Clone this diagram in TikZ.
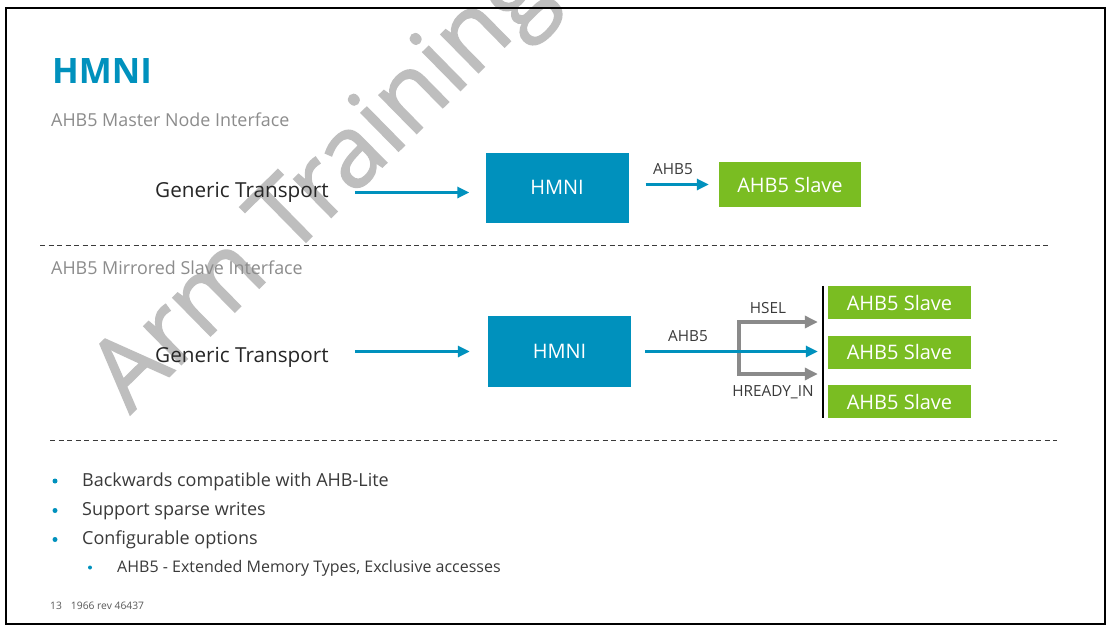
\documentclass[tikz,border=0pt]{standalone}
\usepackage{fontspec}
\setmainfont{Open Sans}
\usetikzlibrary{arrows.meta}
\definecolor{armblue}{HTML}{0091BD}
\definecolor{armgreen}{HTML}{7ABD22}
\definecolor{subgray}{HTML}{8C8C8C}
\definecolor{wmgray}{HTML}{BEBEBE}
\definecolor{arrgray}{HTML}{8A8A8A}
\definecolor{txtdark}{HTML}{262626}
\definecolor{txtmid}{HTML}{3A3A3A}
\begin{document}
\begin{tikzpicture}[x=1pt,y=-1pt,
  hmni/.style={fill=armblue, text=white, inner sep=0, minimum width=143pt, minimum height=70pt, font=\fontsize{20}{24}\selectfont},
  slave/.style={fill=armgreen, text=white, inner sep=0, minimum width=143pt, minimum height=33pt, font=\fontsize{20}{24}\selectfont},
  gtext/.style={text=txtdark, inner sep=0, font=\fontsize{20.7}{24}\selectfont},
  subtitle/.style={text=subgray, inner sep=0, anchor=base west, font=\fontsize{17.9}{21}\selectfont},
  lbl/.style={text=txtmid, inner sep=0, font=\fontsize{15.3}{18}\selectfont},
  bullet/.style={text=txtmid, inner sep=0, anchor=base west, font=\fontsize{18}{22}\selectfont},
  subbullet/.style={text=txtmid, inner sep=0, anchor=base west, font=\fontsize{16}{19}\selectfont},
  bdot/.style={fill=armblue, circle, inner sep=0, minimum size=5pt},
  sdot/.style={fill=armblue, circle, inner sep=0, minimum size=4pt},
  bluearrow/.style={draw=armblue, line width=3pt, -{Triangle[length=12pt,width=11pt]}},
  grayarrow/.style={draw=arrgray, line width=3.5pt, -{Triangle[length=13pt,width=12pt]}},
  grayline/.style={draw=arrgray, line width=3.5pt, line cap=rect},
  divider/.style={draw=txtmid, line width=1pt, dash pattern=on 5pt off 3.5pt}
]
\fill[white] (0,0) rectangle (1110,629);
\useasboundingbox (0,0) rectangle (1110,629);

% watermark
\node[rotate=44.5, anchor=base west, inner sep=0, text=wmgray, font=\fontsize{100}{100}\selectfont\addfontfeature{FakeBold=1.5}] (wm) at (130,415) {Arm Training};

% frame
\draw[line width=2.5pt] (6,8) rectangle (1105,624);

% title
\node[anchor=base west, inner sep=0, text=armblue, font=\fontsize{35}{40}\selectfont\bfseries] (title) at (52,83) {HMNI};
\node[subtitle] (sub1) at (51,126) {AHB5 Master Node Interface};

% top section
\node[gtext, anchor=west] (gt1) at (155,192.5) {Generic Transport};
\node[hmni] (h1) at (557,187.5) {HMNI};
\node[slave, minimum width=142pt, minimum height=45pt] (s1) at (790,184.5) {AHB5 Slave};
\draw[bluearrow, shorten <=26pt, shorten >=16pt] (gt1.east) -- (gt1.east -| h1.west);
\draw[bluearrow, shorten <=17pt, shorten >=10pt] (s1.west -| h1.east) -- (s1.west);
\node[lbl] (l1) at (673,169) {AHB5};

\draw[divider] (40,245) -- (1048,245);

% bottom section
\node[subtitle] (sub2) at (51,274) {AHB5 Mirrored Slave Interface};
\node[gtext, anchor=west] (gt2) at (155,357.5) {Generic Transport};
\node[hmni, minimum height=71pt] (h2) at (559.5,351.5) {HMNI};
\draw[bluearrow, shorten <=26pt, shorten >=18pt] (gt2.east |- h2.west) -- (h2.west);

\node[slave] (s2a) at (899.5,302.5) {AHB5 Slave};
\node[slave] (s2b) at (899.5,352) {AHB5 Slave};
\node[slave] (s2c) at (899.5,401.5) {AHB5 Slave};
\draw[line width=2.5pt] ([xshift=-5pt]s2a.north west) -- ([xshift=-5pt]s2c.south west);

\coordinate (gtop) at (739,322);
\coordinate (gbot) at (739,374);
\draw[grayline] (gtop) -- (gbot);
\draw[grayarrow, shorten >=10pt] (gtop) -- (gtop -| s2a.west);
\draw[grayarrow, shorten >=10pt] (gbot) -- (gbot -| s2c.west);
\draw[bluearrow, shorten <=14pt, shorten >=10pt] (h2.east) -- (h2.east -| s2b.west);

\node[lbl] (l2) at (688,336) {AHB5};
\node[lbl] (l3) at (768,308) {HSEL};
\node[lbl] (l4) at (773,392) {HREADY\_IN};

\draw[divider] (50,440) -- (1057,440);

% bullets
\node[bdot] (d1) at (55,481) {};
\node[bullet] (b1) at (82,486.5) {Backwards compatible with AHB-Lite};
\node[bdot] (d2) at (55,510.5) {};
\node[bullet] (b2) at (82,515.5) {Support sparse writes};
\node[bdot] (d3) at (55,539.5) {};
\node[bullet] (b3) at (82,544.5) {Configurable options};
\node[sdot] (d4) at (90,567.5) {};
\node[subbullet] (b4) at (117,572) {AHB5 - Extended Memory Types, Exclusive accesses};

\node[anchor=base west, inner sep=0, text=black!65, font=\fontsize{10.3}{12}\selectfont] (foot) at (50,609) {13\hspace{9pt}1966 rev 46437};
\end{tikzpicture}
\end{document}
